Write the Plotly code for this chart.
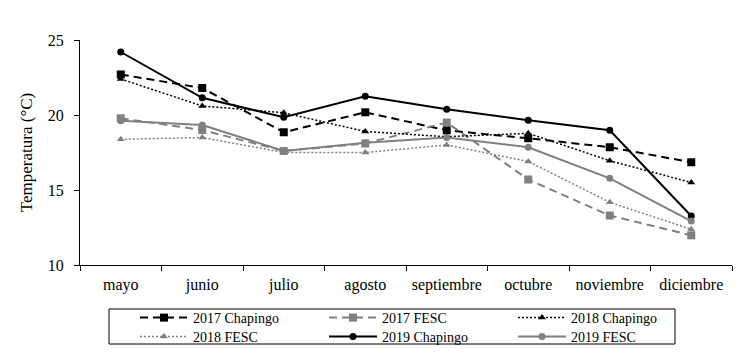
import plotly.graph_objects as go

months = ["mayo", "junio", "julio", "agosto", "septiembre", "octubre", "noviembre", "diciembre"]

chap_2017 = [22.7, 21.8, 18.85, 20.18, 18.98, 18.45, 17.85, 16.85]
fesc_2017 = [19.78, 19.0, 17.6, 18.1, 19.5, 15.7, 13.3, 11.98]
chap_2018 = [22.4, 20.6, 20.15, 18.9, 18.55, 18.78, 16.95, 15.5]
fesc_2018 = [18.38, 18.5, 17.5, 17.5, 18.0, 16.9, 14.18, 12.38]
chap_2019 = [24.2, 21.15, 19.85, 21.25, 20.38, 19.65, 18.98, 13.27]
fesc_2019 = [19.62, 19.33, 17.6, 18.15, 18.5, 17.85, 15.78, 12.93]

y_ticks = [10, 15, 20, 25]

BLACK = "#000000"
GRAY = "#808080"
FONT = "Liberation Serif"

series = [
    ("2017 Chapingo", chap_2017, BLACK, "8px,5px", "square", 8, 2, "legend"),
    ("2017 FESC", fesc_2017, GRAY, "8px,5px", "square", 8, 2, "legend"),
    ("2018 Chapingo", chap_2018, BLACK, "2px,2px", "triangle-up", 7, 1.5, "legend"),
    ("2018 FESC", fesc_2018, GRAY, "2px,2px", "triangle-up", 7, 1.5, "legend2"),
    ("2019 Chapingo", chap_2019, BLACK, "solid", "circle", 7, 2, "legend2"),
    ("2019 FESC", fesc_2019, GRAY, "solid", "circle", 7, 2, "legend2"),
]

fig = go.Figure()
for name, vals, color, dash, sym, msize, lw, leg in series:
    fig.add_trace(go.Scatter(
        x=months, y=vals, name=name, mode="lines+markers",
        line=dict(color=color, width=lw, dash=dash),
        marker=dict(symbol=sym, size=msize, color=color),
        legend=leg,
    ))

W, H = 746, 353  # page body has an 8px margin

legend_common = dict(
    orientation="h", xanchor="left", yanchor="top",
    xref="container", yref="container",
    font=dict(family=FONT, size=14, color="black"),
    bgcolor="rgba(0,0,0,0)", borderwidth=0,
    itemwidth=48, entrywidth=126, entrywidthmode="pixels",
    itemclick=False, itemdoubleclick=False,
)

fig.update_layout(
    width=W, height=H,
    margin=dict(l=72, r=22, t=32, b=96, autoexpand=False),
    paper_bgcolor="white", plot_bgcolor="white",
    font=dict(family=FONT, size=14, color="black"),
    showlegend=True,
    legend=dict(x=127 / W, y=1 - 294 / H, **legend_common),
    legend2=dict(x=127 / W, y=1 - 313 / H, **legend_common),
    shapes=[dict(type="rect", xref="paper", yref="paper",
                 x0=(109 - 80) / 652, x1=(675 - 80) / 652,
                 y0=(265 - 344) / 225, y1=(265 - 309) / 225,
                 line=dict(color="black", width=1), fillcolor="rgba(0,0,0,0)")],
)

fig.update_xaxes(
    type="category", range=[-0.5, 7.5], automargin=False,
    showline=True, linecolor="black", linewidth=1,
    ticks="outside", tickson="boundaries", ticklen=5, tickcolor="black",
    showgrid=False, zeroline=False,
    tickfont=dict(family=FONT, size=16, color="black"),
    ticklabelstandoff=5,
)
fig.update_yaxes(
    range=[10, 25], tickvals=y_ticks, automargin=False,
    showline=True, linecolor="black", linewidth=1,
    ticks="outside", ticklen=5, tickcolor="black",
    showgrid=False, zeroline=False,
    tickfont=dict(family=FONT, size=16, color="black"),
    ticklabelstandoff=7,
    title=dict(text="Temperatura (°C)", font=dict(family=FONT, size=17, color="black"), standoff=10),
)

fig.write_html("out.html")
